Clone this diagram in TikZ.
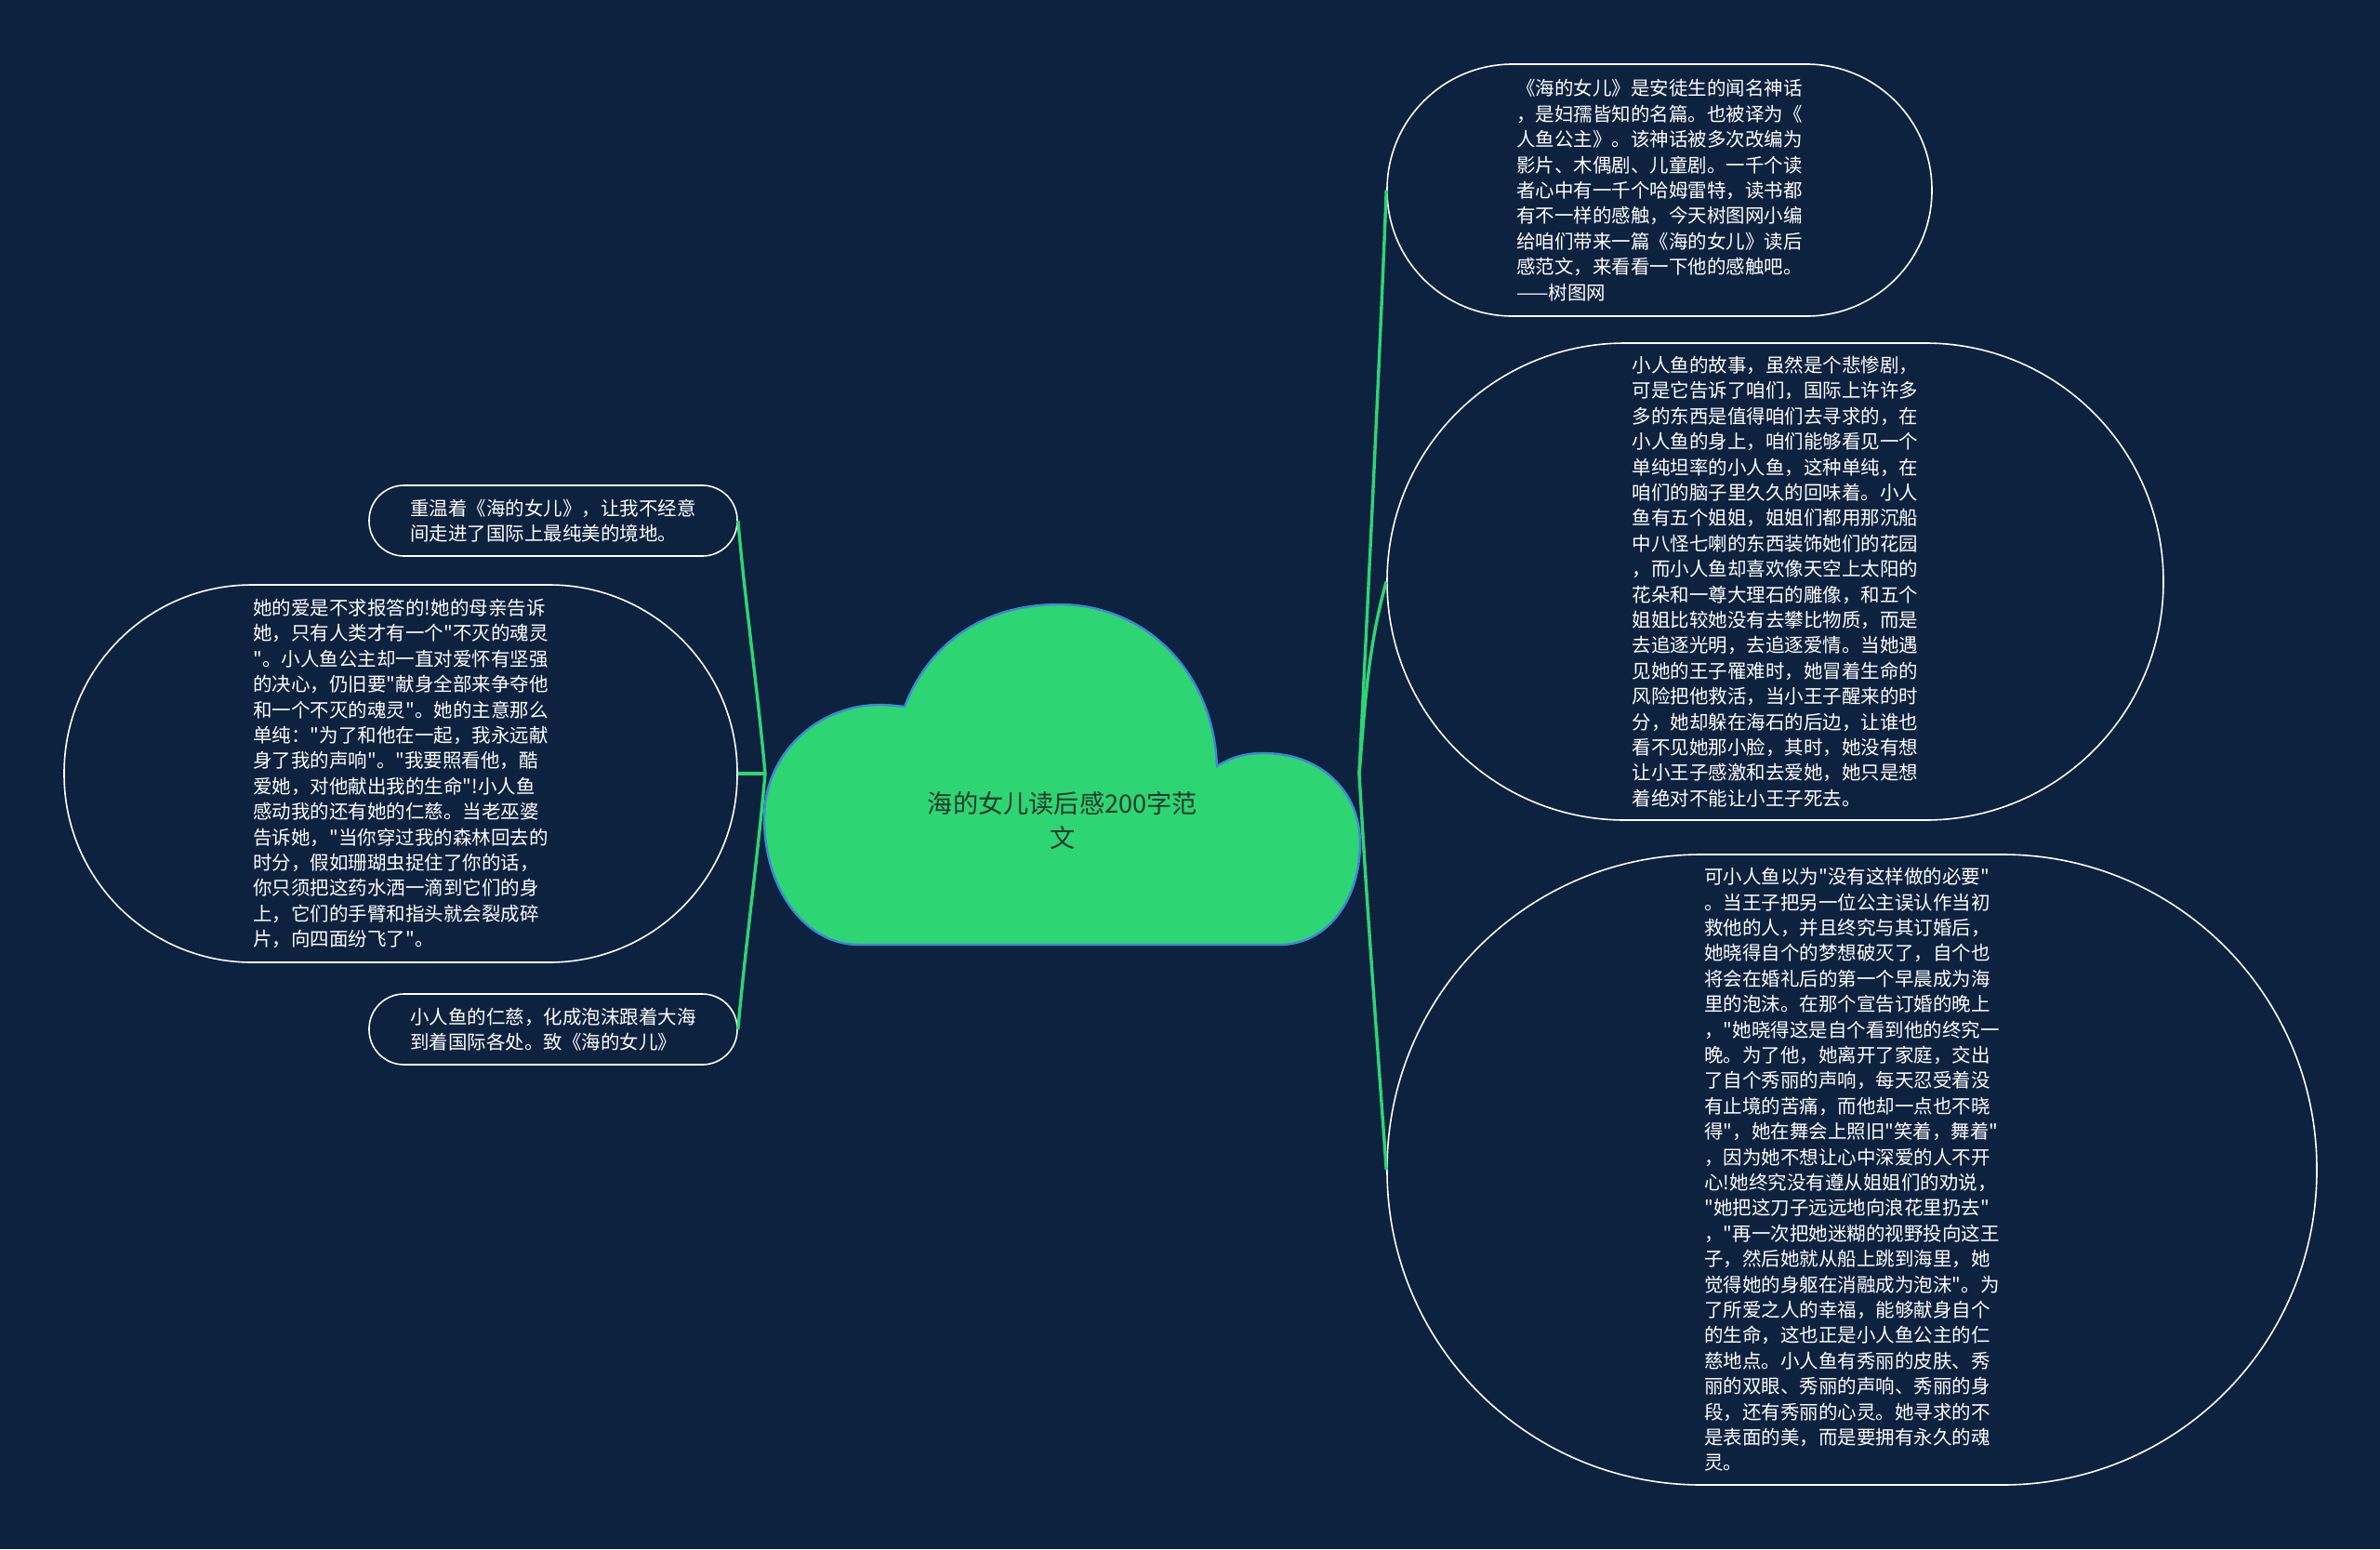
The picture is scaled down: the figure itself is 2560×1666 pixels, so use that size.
\documentclass[tikz,border=0pt]{standalone}
\usepackage{fontspec}
\newfontfamily\cjk{Noto Sans CJK SC}
\usetikzlibrary{calc}
\definecolor{bg}{HTML}{0D223F}
\definecolor{leaf}{HTML}{2ED573}
\definecolor{cloudedge}{HTML}{3F86D6}
\definecolor{roottext}{HTML}{1E3A2C}
\begin{document}
\begin{tikzpicture}[x=0.5pt,y=-0.5pt,
  topic/.style={draw=white, line width=0.8pt, text=white, align=left, inner sep=0pt,
    font=\cjk\fontsize{10.25}{13.7}\selectfont},
  link/.style={draw=leaf, line width=1.7pt}]
\fill[bg] (0,0) rectangle (2560,1666);
\useasboundingbox (0,0) rectangle (2560,1666);

% central cloud
\path[draw=cloudedge, fill=leaf, line width=1.2pt]
  (973,760) .. controls (1000,690) and (1060,650) .. (1139,650)
  .. controls (1230,650) and (1305,720) .. (1309,824)
  .. controls (1325,814) and (1340,810) .. (1359,810)
  .. controls (1420,810) and (1463,850) .. (1463,907)
  .. controls (1463,965) and (1430,1016) .. (1376,1016)
  -- (924,1016)
  .. controls (865,1016) and (822,955) .. (822,880)
  .. controls (822,810) and (880,758) .. (946,758)
  .. controls (955,758) and (965,759) .. (973,760) -- cycle;
\node[align=center, text=roottext, inner sep=0pt, font=\cjk\fontsize{13.6}{18.5}\selectfont] (root) at (1143,882) {海的女儿读后感200字范\\文};

% right topics
\node[topic, minimum width=293pt, minimum height=135.5pt, rounded corners=67.5pt] (r1) at (1785,204.5) {《海的女儿》是安徒生的闻名神话\\，是妇孺皆知的名篇。也被译为《\\人鱼公主》。该神话被多次改编为\\影片、木偶剧、儿童剧。一千个读\\者心中有一千个哈姆雷特，读书都\\有不一样的感触，今天树图网小编\\给咱们带来一篇《海的女儿》读后\\感范文，来看看一下他的感触吧。\\——树图网};

\node[topic, minimum width=417.5pt, minimum height=256.5pt, rounded corners=128pt] (r2) at (1909.5,625.5) {小人鱼的故事，虽然是个悲惨剧，\\可是它告诉了咱们，国际上许许多\\多的东西是值得咱们去寻求的，在\\小人鱼的身上，咱们能够看见一个\\单纯坦率的小人鱼，这种单纯，在\\咱们的脑子里久久的回味着。小人\\鱼有五个姐姐，姐姐们都用那沉船\\中八怪七喇的东西装饰她们的花园\\，而小人鱼却喜欢像天空上太阳的\\花朵和一尊大理石的雕像，和五个\\姐姐比较她没有去攀比物质，而是\\去追逐光明，去追逐爱情。当她遇\\见她的王子罹难时，她冒着生命的\\风险把他救活，当小王子醒来的时\\分，她却躲在海石的后边，让谁也\\看不见她那小脸，其时，她没有想\\让小王子感激和去爱她，她只是想\\着绝对不能让小王子死去。};

\node[topic, minimum width=500pt, minimum height=339pt, rounded corners=169pt] (r3) at (1992,1258) {可小人鱼以为"没有这样做的必要"\\。当王子把另一位公主误认作当初\\救他的人，并且终究与其订婚后，\\她晓得自个的梦想破灭了，自个也\\将会在婚礼后的第一个早晨成为海\\里的泡沫。在那个宣告订婚的晚上\\，"她晓得这是自个看到他的终究一\\晚。为了他，她离开了家庭，交出\\了自个秀丽的声响，每天忍受着没\\有止境的苦痛，而他却一点也不晓\\得"，她在舞会上照旧"笑着，舞着"\\，因为她不想让心中深爱的人不开\\心!她终究没有遵从姐姐们的劝说，\\"她把这刀子远远地向浪花里扔去"\\，"再一次把她迷糊的视野投向这王\\子，然后她就从船上跳到海里，她\\觉得她的身躯在消融成为泡沫"。为\\了所爱之人的幸福，能够献身自个\\的生命，这也正是小人鱼公主的仁\\慈地点。小人鱼有秀丽的皮肤、秀\\丽的双眼、秀丽的声响、秀丽的身\\段，还有秀丽的心灵。她寻求的不\\是表面的美，而是要拥有永久的魂\\灵。};

% left topics
\node[topic, minimum width=198pt, minimum height=38pt, rounded corners=18.8pt] (l1) at (595,560) {重温着《海的女儿》，让我不经意\\间走进了国际上最纯美的境地。};

\node[topic, minimum width=362pt, minimum height=203pt, rounded corners=101pt] (l2) at (431,832) {她的爱是不求报答的!她的母亲告诉\\她，只有人类才有一个"不灭的魂灵\\"。小人鱼公主却一直对爱怀有坚强\\的决心，仍旧要"献身全部来争夺他\\和一个不灭的魂灵"。她的主意那么\\单纯："为了和他在一起，我永远献\\身了我的声响"。"我要照看他，酷\\爱她，对他献出我的生命"!小人鱼\\感动我的还有她的仁慈。当老巫婆\\告诉她，"当你穿过我的森林回去的\\时分，假如珊瑚虫捉住了你的话，\\你只须把这药水洒一滴到它们的身\\上，它们的手臂和指头就会裂成碎\\片，向四面纷飞了"。};

\node[topic, minimum width=198pt, minimum height=38pt, rounded corners=18.8pt] (l3) at (595,1107) {小人鱼的仁慈，化成泡沫跟着大海\\到着国际各处。致《海的女儿》};

% connectors
\coordinate (jl) at (823,832);
\coordinate (jr) at (1462,832);
\draw[link] (l2.east) -- (jl);
\draw[link] (jl) .. controls ($(jl)+(-8,-90)$) and ($(l1.east)+(8,90)$) .. (l1.east);
\draw[link] (jl) .. controls ($(jl)+(-8,90)$) and ($(l3.east)+(8,-90)$) .. (l3.east);
\draw[link] (jr) .. controls ($(jr)+(10,-200)$) and ($(r1.west)+(-8,200)$) .. (r1.west);
\draw[link] (jr) .. controls ($(jr)+(6,-70)$) and ($(r2.west)+(-20,70)$) .. (r2.west);
\draw[link] (jr) .. controls ($(jr)+(8,140)$) and ($(r3.west)+(-10,-140)$) .. (r3.west);
\end{tikzpicture}
\end{document}
